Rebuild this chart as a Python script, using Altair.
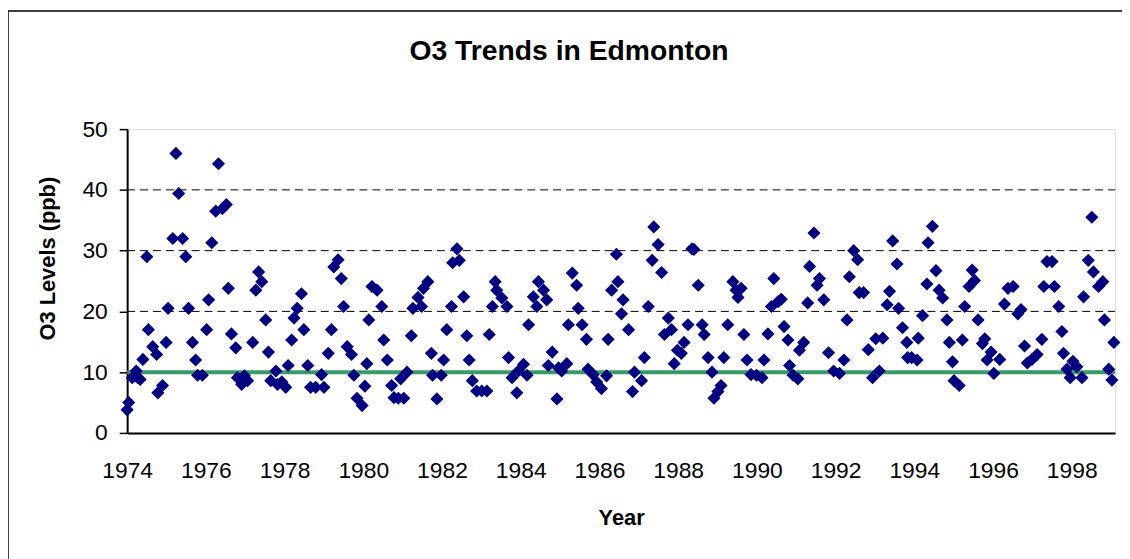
import altair as alt
import pandas as pd

# Monthly O3 readings (decimal year, ppb)
years = [
    1974.00, 1974.04, 1974.13, 1974.23, 1974.27, 1974.33, 1974.40, 1974.50, 1974.54, 1974.65,
    1974.75, 1974.78, 1974.90, 1974.99, 1975.04, 1975.16, 1975.24, 1975.31, 1975.41, 1975.49,
    1975.56, 1975.66, 1975.74, 1975.79, 1975.91, 1976.02, 1976.07, 1976.15, 1976.25, 1976.32,
    1976.42, 1976.52, 1976.57, 1976.65, 1976.76, 1976.80, 1976.91,
    1976.98, 1977.06, 1977.19, 1977.27, 1977.34, 1977.42, 1977.52, 1977.59, 1977.65, 1977.78,
    1977.82, 1977.93, 1978.03, 1978.09, 1978.18, 1978.24, 1978.32, 1978.43, 1978.49, 1978.59,
    1978.66, 1978.79, 1978.94, 1979.00, 1979.11, 1979.19, 1979.25, 1979.36, 1979.44, 1979.50,
    1979.59, 1979.70, 1979.76, 1979.84, 1979.97, 1980.04, 1980.09, 1980.14, 1980.22,
    1980.35, 1980.47, 1980.52, 1980.61, 1980.72, 1980.78, 1980.89, 1980.95, 1981.03, 1981.11,
    1981.22, 1981.26, 1981.39, 1981.48, 1981.53, 1981.64, 1981.73, 1981.76, 1981.87, 1981.98,
    1982.04, 1982.12, 1982.24, 1982.27, 1982.38, 1982.44, 1982.55, 1982.63, 1982.69, 1982.77,
    1982.88, 1983.01, 1983.14, 1983.20, 1983.28, 1983.35, 1983.39,
    1983.52, 1983.65, 1983.69, 1983.78, 1983.90, 1983.94, 1984.07, 1984.16, 1984.20, 1984.32,
    1984.41, 1984.45, 1984.58, 1984.66, 1984.70, 1984.80, 1984.92, 1984.96, 1985.04, 1985.17,
    1985.21, 1985.31, 1985.42, 1985.46, 1985.56, 1985.67, 1985.71, 1985.84, 1985.93, 1986.05,
    1986.18, 1986.22, 1986.31, 1986.43, 1986.47, 1986.56, 1986.60,
    1986.74, 1986.84, 1986.89, 1987.07, 1987.14, 1987.24, 1987.34, 1987.38, 1987.49, 1987.58,
    1987.65, 1987.75, 1987.83, 1987.90, 1987.98, 1988.08, 1988.15, 1988.25, 1988.35, 1988.40,
    1988.51, 1988.61, 1988.66, 1988.76, 1988.86, 1988.91, 1989.01, 1989.09, 1989.16, 1989.26,
    1989.39, 1989.47, 1989.52, 1989.60, 1989.67, 1989.75, 1989.85,
    1989.99, 1990.13, 1990.18, 1990.28, 1990.37, 1990.43, 1990.54, 1990.62, 1990.69, 1990.79,
    1990.83, 1990.92, 1991.04, 1991.08, 1991.19, 1991.29, 1991.34, 1991.45, 1991.53, 1991.59,
    1991.70, 1991.82, 1991.95, 1992.10, 1992.21, 1992.29, 1992.35, 1992.46, 1992.56, 1992.60,
    1992.71, 1992.83, 1992.94,
    1993.02, 1993.11, 1993.20, 1993.31, 1993.37, 1993.45, 1993.56, 1993.60, 1993.70, 1993.81,
    1993.83, 1993.93, 1994.07, 1994.10, 1994.21, 1994.32, 1994.35, 1994.46, 1994.55, 1994.63,
    1994.72, 1994.83, 1994.89, 1994.97, 1995.01, 1995.14, 1995.22, 1995.28, 1995.39, 1995.47,
    1995.53, 1995.62, 1995.73, 1995.79, 1995.85, 1995.95, 1996.02, 1996.17,
    1996.29, 1996.38, 1996.51, 1996.63, 1996.71, 1996.80, 1996.87, 1996.99, 1997.12, 1997.24,
    1997.29, 1997.37, 1997.50, 1997.56, 1997.67, 1997.75, 1997.79, 1997.88, 1997.96, 1998.03,
    1998.13, 1998.26, 1998.30, 1998.42, 1998.51, 1998.55, 1998.68, 1998.79, 1998.83, 1998.94,
    1999.02, 1999.07,
]
o3_ppb = [
    3.8, 5.0, 9.1, 10.2, 9.1, 8.8, 12.1, 29.0, 17.0, 14.2,
    12.9, 6.6, 7.8, 14.9, 20.5, 32.0, 46.0, 39.4, 32.0, 29.0,
    20.5, 14.9, 12.0, 9.5, 9.5, 17.0, 21.9, 31.3, 36.5, 44.3,
    36.9, 37.6, 23.8, 16.3, 14.0, 9.1, 8.0,
    9.4, 8.6, 14.9, 23.5, 26.5, 24.9, 18.6, 13.3, 8.6, 10.2,
    8.0, 8.4, 7.5, 11.1, 15.3, 18.9, 20.5, 22.9, 17.0, 11.1,
    7.5, 7.5, 9.6, 7.5, 13.1, 17.0, 27.3, 28.5, 25.4, 20.8,
    14.2, 12.9, 9.5, 5.7, 4.5, 7.7, 11.4, 18.6, 24.1,
    23.5, 20.8, 15.3, 12.0, 7.8, 5.8, 5.7, 8.9, 5.7, 10.0,
    16.0, 20.5, 22.3, 20.8, 23.8, 24.9, 13.1, 9.5, 5.6, 9.5,
    12.0, 17.0, 20.8, 28.0, 30.3, 28.4, 22.4, 16.0, 12.0, 8.6,
    6.9, 6.9, 6.9, 16.2, 20.8, 24.9, 23.5,
    22.2, 20.8, 12.4, 9.1, 6.6, 10.2, 11.3, 9.5, 17.8, 22.4,
    20.8, 24.9, 23.5, 21.9, 11.1, 13.3, 5.6, 10.7, 10.2, 11.4,
    17.8, 26.3, 24.3, 20.5, 17.8, 15.4, 10.5, 9.6, 8.4, 7.3,
    9.4, 15.4, 23.5, 29.4, 24.9, 19.6, 21.9,
    17.0, 6.8, 10.0, 8.6, 12.4, 20.8, 28.4, 33.9, 31.0, 26.4,
    16.2, 18.9, 17.0, 11.4, 13.6, 13.1, 14.9, 17.8, 30.3, 30.2,
    24.3, 17.8, 16.2, 12.4, 10.0, 5.7, 6.8, 7.8, 12.4, 17.8,
    24.9, 23.5, 22.3, 23.8, 16.2, 12.0, 9.6,
    9.5, 9.1, 12.0, 16.3, 20.8, 25.4, 21.6, 22.0, 17.5, 15.3,
    11.1, 9.5, 8.9, 13.6, 14.9, 21.4, 27.4, 32.9, 24.3, 25.4,
    21.9, 13.2, 10.2, 9.8, 12.0, 18.6, 25.7, 30.0, 28.5, 23.1,
    23.1, 13.7, 9.1,
    15.5, 10.2, 15.6, 21.1, 23.3, 31.6, 27.8, 20.5, 17.3, 14.9,
    12.4, 12.4, 12.0, 15.6, 19.3, 24.5, 31.3, 34.0, 26.7, 23.5,
    22.2, 18.6, 14.9, 11.7, 8.6, 7.8, 15.3, 20.8, 24.1, 26.8,
    25.1, 18.6, 14.7, 15.5, 12.0, 13.3, 9.8, 12.1,
    21.2, 23.8, 24.1, 19.6, 20.3, 14.3, 11.5, 12.1, 12.9, 15.4,
    24.1, 28.2, 28.2, 24.1, 20.8, 16.7, 13.1, 10.5, 9.1, 11.8,
    10.9, 9.1, 22.4, 28.4, 35.5, 26.5, 24.1, 24.9, 18.6, 10.5,
    8.7, 14.9,
]
x_ticks = [1974, 1976, 1978, 1980, 1982, 1984, 1986, 1988, 1990, 1992, 1994, 1996, 1998]
y_ticks = [0, 10, 20, 30, 40, 50]
grid_levels = [10, 20, 30, 40]
threshold = [10]
x_range = [1974, 1999.1]
y_range = [0, 50]
chart_title = ["O3 Trends in Edmonton"]

W, H = 995, 306
FONT = "Liberation Sans"

df = pd.DataFrame({"year": years, "o3": o3_ppb})
grid_df = pd.DataFrame({"o3": grid_levels})
thr_df = pd.DataFrame({"o3": threshold})
title_df = pd.DataFrame({"t": chart_title})

xs = alt.Scale(domain=x_range, nice=False, zero=False)
ys = alt.Scale(domain=y_range, nice=False)

x_axis = alt.Axis(values=x_ticks, format="d", ticks=False, grid=False,
                  labelFlush=False, labelOverlap=False,
                  labelFontSize=23, labelFont=FONT, labelColor="black",
                  labelPadding=27, domainColor="black", domainWidth=2,
                  title="Year", titleFont=FONT, titleFontSize=22,
                  titleFontWeight="bold", titleColor="black",
                  titleBaseline="alphabetic", titleY=92)
y_axis = alt.Axis(values=y_ticks, grid=False, ticks=True, tickSize=8,
                  tickColor="black", tickWidth=1.5, labelFlush=False,
                  labelFontSize=23, labelFont=FONT, labelColor="black",
                  labelPadding=12, domainColor="black", domainWidth=2,
                  title="O3 Levels (ppb)", titleFont=FONT, titleFontSize=22,
                  titleFontWeight="bold", titleColor="black",
                  titleBaseline="alphabetic", titleX=-73, titleY=130,
                  titleAnchor="middle")

border = alt.Chart(thr_df).mark_rect(
    fill=None, stroke="black", strokeWidth=1.5, clip=False
).encode(
    x=alt.value(-120), x2=alt.value(W + 200),
    y=alt.value(-119), y2=alt.value(H + 300)
)

title = alt.Chart(title_df).mark_text(
    font=FONT, fontSize=28.5, fontWeight="bold", color="black",
    align="center", baseline="alphabetic"
).encode(
    text="t:N", x=alt.value(445), y=alt.value(-70)
)

grid = alt.Chart(grid_df).mark_rule(
    color="black", strokeWidth=1, strokeDash=[8, 5]
).encode(
    y=alt.Y("o3:Q", scale=ys, axis=y_axis),
    x=alt.value(0), x2=alt.value(W)
)

thr = alt.Chart(thr_df).mark_rule(color="#3a9a67", strokeWidth=4).encode(
    y=alt.Y("o3:Q", scale=ys, axis=y_axis),
    x=alt.value(0), x2=alt.value(W)
)

pts = alt.Chart(df).mark_point(
    shape="diamond", filled=True, color="#000080", size=175, opacity=1
).encode(
    x=alt.X("year:Q", scale=xs, axis=x_axis),
    y=alt.Y("o3:Q", scale=ys, axis=y_axis),
)

chart = alt.layer(border, title, grid, thr, pts).properties(
    width=W, height=H,
    autosize=alt.AutoSizeParams(type="none"),
    padding={"left": 120, "top": 120, "right": 7, "bottom": 125},
).configure_view(stroke="#808080", strokeWidth=2).configure(background="white")

chart.save("out.html", embed_options={"renderer": "svg", "actions": False})
